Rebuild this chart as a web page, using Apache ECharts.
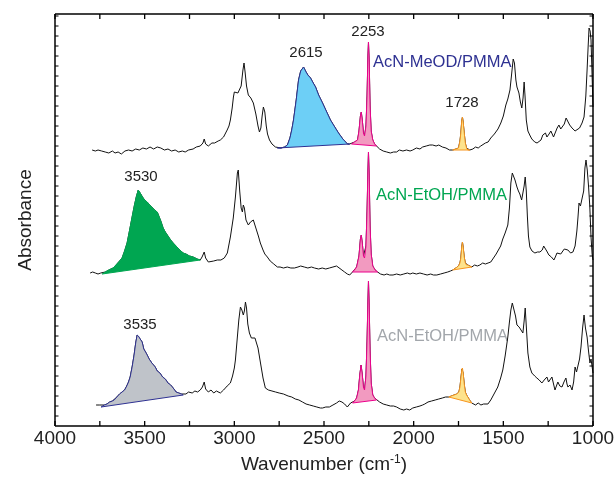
<!DOCTYPE html>
<html>
<head>
<meta charset="utf-8">
<script src="https://cdn.jsdelivr.net/npm/echarts@6/dist/echarts.min.js"></script>
<style>
  html, body { margin: 0; padding: 0; background: #fff; }
  #chart { width: 614px; height: 477px; }
</style>
</head>
<body>
<div id="chart"></div>
<script>
// stacked absorbance (a.u.), [wavenumber, value]
const meodTrace = [
  [3793, 27.6], [3775, 27.5], [3760, 27.6], [3740, 27.5], [3720, 27.4], [3700, 27.3], [3680, 27.5],
  [3665, 27.3], [3648, 27.4], [3630, 27.2], [3610, 27.5], [3590, 27.6], [3570, 27.5], [3550, 27.7],
  [3530, 27.6], [3510, 27.8], [3490, 27.7], [3470, 27.9], [3450, 27.7], [3430, 27.9], [3410, 27.8],
  [3390, 27.6], [3370, 27.7], [3350, 27.5], [3330, 27.6], [3310, 27.4], [3290, 27.5], [3274, 27.4],
  [3255, 27.6], [3230, 27.7], [3212, 27.9], [3190, 28.0], [3175, 28.3], [3168, 28.7], [3160, 28.2],
  [3145, 28.0], [3125, 28.3], [3110, 28.3], [3090, 28.5], [3078, 28.6], [3060, 28.9], [3040, 29.6],
  [3030, 30.0], [3022, 30.6], [3012, 31.8], [3005, 32.9], [3000, 33.4], [2990, 33.5], [2980, 33.3],
  [2972, 33.3], [2962, 34.0], [2952, 35.6], [2946, 36.3], [2940, 35.4], [2932, 34.0], [2922, 33.1],
  [2908, 32.8], [2894, 32.3], [2880, 31.2], [2868, 30.0], [2860, 29.4], [2852, 29.8], [2845, 31.0],
  [2838, 31.9], [2830, 31.4], [2822, 30.0], [2815, 29.2], [2804, 28.6], [2790, 28.2], [2771, 27.9],
  [2760, 27.8], [2740, 27.8], [2720, 27.9], [2704, 28.1], [2690, 28.8], [2680, 29.6], [2670, 30.6],
  [2655, 32.6], [2642, 34.6], [2630, 35.5], [2614, 35.9], [2600, 35.4], [2590, 35.1], [2575, 34.8],
  [2560, 34.3], [2547, 33.9], [2530, 33.1], [2508, 32.3], [2490, 31.6], [2464, 30.6], [2440, 29.9],
  [2419, 29.3], [2395, 28.7], [2369, 28.2], [2357, 28.2], [2346, 28.2], [2330, 28.4], [2313, 28.6],
  [2305, 29.5], [2297, 31.0], [2292, 31.4], [2286, 30.5], [2280, 29.3], [2274, 29.0], [2266, 30.0],
  [2260, 33.0], [2255, 37.0], [2252, 38.4], [2248, 36.5], [2243, 32.0], [2237, 29.5], [2228, 28.6],
  [2218, 28.2], [2207, 28.0], [2190, 27.7], [2170, 27.5], [2150, 27.4], [2130, 27.3], [2112, 27.4],
  [2095, 27.4], [2080, 27.6], [2060, 27.5], [2040, 27.6], [2020, 27.5], [2005, 27.6], [1985, 27.8],
  [1965, 27.7], [1950, 27.9], [1930, 28.0], [1910, 28.1], [1894, 28.1], [1875, 28.0], [1860, 28.1],
  [1840, 27.9], [1820, 27.8], [1800, 27.6], [1782, 27.6], [1765, 27.7], [1750, 27.8], [1742, 28.5],
  [1737, 29.3], [1732, 30.5], [1728, 30.9], [1724, 30.4], [1718, 29.3], [1712, 28.3], [1705, 27.8],
  [1698, 27.6], [1687, 27.6], [1670, 27.7], [1655, 27.9], [1640, 27.8], [1626, 28.0], [1600, 28.3],
  [1585, 28.4], [1570, 28.8], [1550, 29.2], [1530, 29.7], [1514, 30.3], [1500, 31.0], [1486, 32.1],
  [1475, 32.7], [1463, 33.6], [1452, 35.5], [1445, 36.7], [1438, 36.3], [1430, 34.6], [1424, 33.9],
  [1413, 33.3], [1405, 32.4], [1397, 31.8], [1390, 32.8], [1384, 34.4], [1379, 33.0], [1372, 30.6],
  [1363, 29.5], [1350, 29.0], [1341, 28.7], [1325, 28.4], [1312, 28.3], [1302, 28.4], [1290, 28.6],
  [1280, 29.1], [1274, 29.0], [1265, 29.3], [1257, 28.9], [1245, 29.2], [1235, 29.5], [1229, 29.3],
  [1220, 28.9], [1212, 29.0], [1200, 29.8], [1190, 30.1], [1180, 29.7], [1173, 29.6], [1160, 30.2],
  [1150, 30.8], [1140, 30.6], [1130, 30.1], [1117, 29.8], [1100, 29.5], [1089, 29.4], [1075, 29.8],
  [1061, 30.3], [1050, 30.9], [1040, 33.0], [1033, 35.6], [1027, 38.0], [1022, 39.8], [1016, 39.5],
  [1011, 38.6], [1005, 35.0], [1000, 31.9]
];
const etohTrace = [
  [3804, 15.3], [3790, 15.4], [3775, 15.3], [3760, 15.2], [3745, 15.3], [3737, 15.2], [3720, 15.4],
  [3700, 15.6], [3676, 15.8], [3655, 16.2], [3640, 16.5], [3626, 16.8], [3612, 17.5], [3598, 18.3],
  [3585, 19.5], [3570, 20.9], [3558, 22.0], [3547, 22.9], [3536, 23.6], [3525, 23.3], [3512, 22.9],
  [3500, 22.6], [3486, 22.4], [3472, 22.1], [3460, 21.9], [3445, 21.6], [3430, 21.4], [3410, 20.5],
  [3397, 19.8], [3385, 19.4], [3370, 19.0], [3355, 18.6], [3341, 18.3], [3325, 18.0], [3310, 17.7],
  [3298, 17.5], [3285, 17.3], [3270, 17.2], [3250, 17.0], [3230, 16.9], [3207, 16.7], [3190, 16.6],
  [3180, 16.9], [3168, 17.4], [3160, 16.8], [3145, 16.4], [3134, 16.3], [3115, 16.5], [3095, 16.6],
  [3075, 16.6], [3056, 16.8], [3039, 17.3], [3022, 18.9], [3006, 20.8], [2994, 22.9], [2983, 25.3],
  [2978, 25.6], [2970, 23.5], [2962, 21.8], [2955, 21.4], [2950, 22.1], [2944, 21.8], [2935, 20.6],
  [2922, 20.1], [2910, 20.4], [2900, 20.6], [2894, 20.6], [2880, 19.8], [2866, 19.0], [2855, 18.3],
  [2840, 17.6], [2830, 17.2], [2816, 16.9], [2800, 16.5], [2780, 16.2], [2760, 15.9], [2745, 15.9],
  [2726, 15.8], [2705, 15.9], [2685, 15.8], [2665, 15.8], [2645, 15.9], [2630, 16.0], [2620, 16.2],
  [2610, 15.9], [2590, 15.8], [2570, 15.9], [2553, 15.8], [2530, 15.7], [2510, 15.8], [2490, 15.7],
  [2470, 15.8], [2450, 15.9], [2430, 16.0], [2419, 15.9], [2400, 15.6], [2385, 15.4], [2370, 15.2],
  [2357, 15.1], [2341, 15.4], [2330, 15.6], [2318, 15.9], [2305, 17.0], [2297, 18.7], [2292, 19.1],
  [2286, 18.2], [2280, 17.0], [2274, 16.8], [2266, 18.0], [2260, 21.5], [2255, 25.5], [2252, 27.4],
  [2248, 25.0], [2243, 20.0], [2237, 17.2], [2228, 16.0], [2215, 15.6], [2201, 15.4], [2185, 15.2],
  [2165, 15.1], [2150, 15.2], [2134, 15.1], [2115, 15.1], [2095, 15.2], [2075, 15.1], [2055, 15.2],
  [2035, 15.3], [2020, 15.2], [2005, 15.3], [1985, 15.2], [1965, 15.3], [1945, 15.2], [1925, 15.1],
  [1905, 15.2], [1890, 15.1], [1871, 15.1], [1850, 15.2], [1830, 15.3], [1810, 15.4], [1795, 15.5],
  [1782, 15.6], [1765, 15.8], [1750, 16.0], [1742, 16.3], [1737, 16.8], [1732, 17.9], [1728, 18.4],
  [1724, 17.9], [1718, 16.9], [1712, 16.3], [1705, 16.1], [1698, 16.1], [1688, 16.0], [1676, 15.9],
  [1660, 16.1], [1645, 16.0], [1631, 16.1], [1615, 16.3], [1600, 16.2], [1585, 16.3], [1570, 16.4],
  [1555, 16.8], [1540, 17.2], [1531, 17.4], [1515, 18.0], [1503, 18.7], [1490, 19.3], [1475, 20.1],
  [1466, 21.8], [1458, 24.3], [1450, 25.3], [1441, 25.4], [1435, 24.6], [1424, 23.9], [1416, 23.5],
  [1408, 23.2], [1398, 22.6], [1391, 22.4], [1384, 24.0], [1378, 24.9], [1372, 23.5], [1366, 21.0],
  [1360, 19.0], [1352, 17.9], [1340, 17.5], [1324, 17.3], [1310, 17.4], [1296, 17.4], [1283, 17.6],
  [1275, 18.0], [1268, 17.9], [1258, 17.5], [1246, 17.1], [1232, 16.9], [1218, 16.6], [1210, 16.9],
  [1201, 17.3], [1190, 17.2], [1180, 17.2], [1173, 17.4], [1160, 17.7], [1150, 17.9], [1140, 17.6],
  [1125, 17.3], [1112, 17.4], [1100, 18.0], [1090, 19.5], [1084, 20.8], [1078, 22.3], [1070, 22.0],
  [1061, 21.9], [1052, 23.5], [1045, 25.8], [1039, 26.6], [1032, 25.6], [1025, 24.0], [1018, 22.0],
  [1011, 18.9], [1005, 17.2], [1000, 16.6]
];
const etohGreyTrace = [
  [3771, 2.1], [3760, 2.0], [3750, 2.1], [3743, 1.9], [3725, 2.1], [3710, 2.2], [3695, 2.4],
  [3680, 2.5], [3670, 2.6], [3655, 2.9], [3640, 3.2], [3626, 3.4], [3612, 3.6], [3600, 4.0],
  [3590, 4.4], [3581, 4.9], [3570, 5.9], [3559, 7.1], [3550, 8.3], [3542, 9.1], [3535, 9.0],
  [3525, 8.7], [3514, 8.4], [3505, 7.7], [3495, 7.4], [3486, 7.1], [3475, 6.7], [3460, 6.3],
  [3441, 5.9], [3430, 5.5], [3415, 5.3], [3400, 4.9], [3385, 4.7], [3370, 4.3], [3355, 4.1],
  [3341, 3.8], [3325, 3.4], [3310, 3.3], [3295, 3.2], [3285, 3.1], [3270, 3.2], [3255, 3.4],
  [3235, 3.3], [3220, 3.5], [3205, 3.4], [3190, 3.6], [3178, 3.9], [3168, 4.4], [3160, 3.7],
  [3145, 3.4], [3130, 3.6], [3115, 3.3], [3100, 3.5], [3078, 3.3], [3060, 3.6], [3040, 4.0],
  [3022, 4.3], [3010, 5.0], [3000, 5.8], [2994, 6.6], [2985, 8.5], [2975, 10.6], [2966, 11.9],
  [2958, 11.6], [2950, 11.1], [2944, 11.5], [2938, 12.4], [2932, 11.8], [2925, 10.2], [2916, 9.3],
  [2905, 8.8], [2894, 8.6], [2885, 8.8], [2877, 8.9], [2868, 7.8], [2855, 6.4], [2840, 4.8],
  [2827, 3.8], [2810, 3.6], [2790, 3.5], [2770, 3.4], [2750, 3.3], [2726, 3.2], [2700, 3.0],
  [2680, 2.9], [2660, 2.7], [2640, 2.6], [2620, 2.4], [2600, 2.2], [2580, 2.1], [2560, 2.0],
  [2540, 1.9], [2520, 1.8], [2508, 1.8], [2490, 1.9], [2470, 1.9], [2450, 2.1], [2430, 2.3],
  [2415, 2.5], [2400, 2.4], [2385, 2.2], [2370, 1.9], [2363, 2.0], [2352, 2.3], [2341, 2.3],
  [2330, 2.5], [2318, 2.8], [2308, 3.6], [2300, 5.2], [2293, 6.1], [2287, 5.2], [2280, 3.9],
  [2274, 3.6], [2266, 5.0], [2260, 8.5], [2255, 12.5], [2252, 14.5], [2248, 12.0], [2243, 7.5],
  [2237, 4.3], [2228, 3.1], [2218, 2.8], [2207, 2.6], [2190, 2.4], [2170, 2.2], [2150, 2.1],
  [2130, 2.0], [2112, 2.0], [2095, 1.9], [2075, 1.7], [2055, 1.6], [2040, 1.7], [2022, 1.6],
  [2005, 1.8], [1985, 1.9], [1965, 2.0], [1950, 2.1], [1938, 2.2], [1920, 2.4], [1900, 2.5],
  [1880, 2.6], [1860, 2.7], [1840, 2.8], [1822, 2.9], [1804, 2.9], [1790, 3.0], [1775, 3.1],
  [1760, 3.2], [1748, 3.4], [1742, 3.9], [1736, 4.9], [1731, 5.7], [1728, 5.8], [1724, 5.3],
  [1718, 4.2], [1712, 3.4], [1705, 3.1], [1698, 2.9], [1688, 2.6], [1676, 2.3], [1665, 2.2],
  [1655, 2.1], [1640, 2.3], [1625, 2.1], [1610, 2.2], [1600, 2.3], [1586, 2.2], [1570, 2.6],
  [1555, 3.1], [1540, 3.6], [1531, 3.9], [1515, 4.8], [1503, 5.6], [1490, 7.0], [1475, 8.9],
  [1466, 10.4], [1458, 11.6], [1450, 12.3], [1441, 12.2], [1432, 11.0], [1424, 10.1], [1412, 9.9],
  [1402, 9.8], [1391, 9.3], [1384, 10.5], [1378, 11.8], [1372, 10.0], [1363, 7.3], [1352, 5.9],
  [1341, 5.3], [1325, 5.0], [1313, 4.8], [1300, 4.6], [1285, 4.3], [1272, 4.6], [1257, 4.9],
  [1248, 4.4], [1240, 4.6], [1229, 4.9], [1220, 4.2], [1212, 3.6], [1204, 4.0], [1196, 4.4],
  [1185, 4.0], [1173, 3.9], [1162, 4.4], [1151, 4.8], [1145, 4.2], [1140, 3.9], [1128, 4.1],
  [1117, 3.6], [1108, 4.4], [1100, 5.9], [1092, 5.4], [1084, 5.6], [1075, 6.7], [1067, 7.9],
  [1058, 9.8], [1050, 11.1], [1042, 9.8], [1033, 8.9], [1025, 7.5], [1017, 6.3], [1011, 6.7],
  [1006, 6.6], [1000, 5.3]
];

// filled bands: [from, to] in cm-1
const meodBands = [[2760, 2357], [2346, 2207], [1782, 1687]];
const etohBands = [[3737, 3190], [2341, 2201], [1782, 1676]];
const etohGreyBands = [[3743, 3285], [2341, 2207], [1804, 1676]];

// frame ticks (axis units)
const xTicks = [1000, 1250, 1500, 1750, 2000, 2250, 2500, 2750, 3000, 3250, 3500, 3750, 4000];
const yTicks = [1, 2, 3, 4, 5, 6, 7, 8, 9, 10, 11, 12, 13, 14, 15, 16, 17, 18, 19, 20,
  21, 22, 23, 24, 25, 26, 27, 28, 29, 30, 31, 32, 33, 34, 35, 36, 37, 38, 39, 40, 41];
const X_MIN = 1000, X_MAX = 4000, Y_MIN = 0, Y_MAX = 41.2;

const bandStyles = {
  od: { fill: '#6dcff6', stroke: '#2e3192' },
  cn: { fill: '#f29ac0', stroke: '#ec008c' },
  co: { fill: '#fde38c', stroke: '#f7941d' },
  ohGreen: { fill: '#00a651', stroke: '#00a651' },
  ohGrey: { fill: '#bfc3c9', stroke: '#2e3192' }
};

const FONT = 'Liberation Sans, Arial, sans-serif';
const chart = echarts.init(document.getElementById('chart'));

const bandSeries = (trace, band, style) => {
  const pts = trace.filter(p => p[0] <= band[0] && p[0] >= band[1]);
  return {
    type: 'custom',
    coordinateSystem: 'cartesian2d',
    z: 3,
    silent: true,
    data: [[band[0], pts[0][1]]],
    renderItem: (params, api) => ({
      type: 'polygon',
      shape: { points: pts.map(p => api.coord(p)) },
      style: { fill: style.fill, stroke: style.stroke, lineWidth: 1 }
    })
  };
};

const traceSeries = data => ({
  type: 'line',
  data,
  showSymbol: false,
  z: 2,
  silent: true,
  lineStyle: { color: '#111', width: 1 }
});

const seg = (a, b, w) => ({
  type: 'line',
  shape: { x1: a[0], y1: a[1], x2: b[0], y2: b[1] },
  style: { stroke: '#000', lineWidth: w }
});

// box frame + inward ticks, placed through the axis scales
const frameSeries = {
  type: 'custom',
  coordinateSystem: 'cartesian2d',
  z: 5,
  silent: true,
  clip: false,
  data: [[X_MAX, Y_MIN]],
  renderItem: (params, api) => {
    const tl = api.coord([X_MAX, Y_MAX]);
    const br = api.coord([X_MIN, Y_MIN]);
    const children = [
      seg([tl[0], tl[1]], [br[0], tl[1]], 1.5),
      seg([tl[0], br[1]], [br[0], br[1]], 1.5),
      seg([tl[0], tl[1]], [tl[0], br[1]], 1.5),
      seg([br[0], tl[1]], [br[0], br[1]], 1.5)
    ];
    xTicks.forEach(v => {
      const x = api.coord([v, Y_MIN])[0];
      children.push(seg([x, br[1]], [x, br[1] - 5], 1.3));
      children.push(seg([x, tl[1]], [x, tl[1] + 5], 1.3));
    });
    yTicks.forEach(v => {
      const y = api.coord([X_MAX, v])[1];
      children.push(seg([tl[0], y], [tl[0] + 3.5, y], 1));
      children.push(seg([br[0], y], [br[0] - 3.5, y], 1));
    });
    return { type: 'group', children };
  }
};

const txt = (x, y, text, color, size, align) => ({
  type: 'text',
  x, y,
  style: {
    text, fill: color, fontSize: size, fontFamily: FONT,
    align: align || 'center', verticalAlign: 'middle'
  }
});

const option = {
  animation: false,
  grid: { left: 55, right: 21, top: 14, bottom: 51, outerBoundsMode: 'none' },
  xAxis: {
    type: 'value',
    min: X_MIN,
    max: X_MAX,
    interval: 500,
    inverse: true,
    axisLine: { show: false },
    axisTick: { show: false },
    splitLine: { show: false },
    axisLabel: { show: true, fontSize: 19, color: '#222', margin: 3, fontFamily: FONT, formatter: v => String(v) },
    name: 'Wavenumber (cm{sup|-1})',
    nameLocation: 'middle',
    nameGap: 28,
    nameTextStyle: {
      fontSize: 19, color: '#222', fontFamily: FONT,
      rich: { sup: { fontSize: 12, color: '#222', padding: [0, 0, 9, 0], fontFamily: FONT } }
    }
  },
  yAxis: {
    type: 'value',
    min: Y_MIN,
    max: Y_MAX,
    interval: 1,
    axisLine: { show: false },
    axisTick: { show: false },
    axisLabel: { show: false },
    splitLine: { show: false },
    name: 'Absorbance',
    nameLocation: 'middle',
    nameGap: 20,
    nameTextStyle: { fontSize: 19, color: '#222', fontFamily: FONT }
  },
  graphic: [
    txt(306, 53, '2615', '#222', 15),
    txt(368, 32, '2253', '#222', 15),
    txt(462, 103, '1728', '#222', 15),
    txt(141, 177, '3530', '#222', 15),
    txt(140, 325, '3535', '#222', 15),
    txt(373, 62, 'AcN-MeOD/PMMA', '#2e3192', 16.5, 'left'),
    txt(376, 195, 'AcN-EtOH/PMMA', '#00a651', 16.5, 'left'),
    txt(377, 336, 'AcN-EtOH/PMMA', '#a2a6ab', 16.5, 'left')
  ],
  series: [
    traceSeries(meodTrace),
    traceSeries(etohTrace),
    traceSeries(etohGreyTrace),
    bandSeries(meodTrace, meodBands[0], bandStyles.od),
    bandSeries(meodTrace, meodBands[1], bandStyles.cn),
    bandSeries(meodTrace, meodBands[2], bandStyles.co),
    bandSeries(etohTrace, etohBands[0], bandStyles.ohGreen),
    bandSeries(etohTrace, etohBands[1], bandStyles.cn),
    bandSeries(etohTrace, etohBands[2], bandStyles.co),
    bandSeries(etohGreyTrace, etohGreyBands[0], bandStyles.ohGrey),
    bandSeries(etohGreyTrace, etohGreyBands[1], bandStyles.cn),
    bandSeries(etohGreyTrace, etohGreyBands[2], bandStyles.co),
    frameSeries
  ]
};

chart.setOption(option);
</script>
</body>
</html>
